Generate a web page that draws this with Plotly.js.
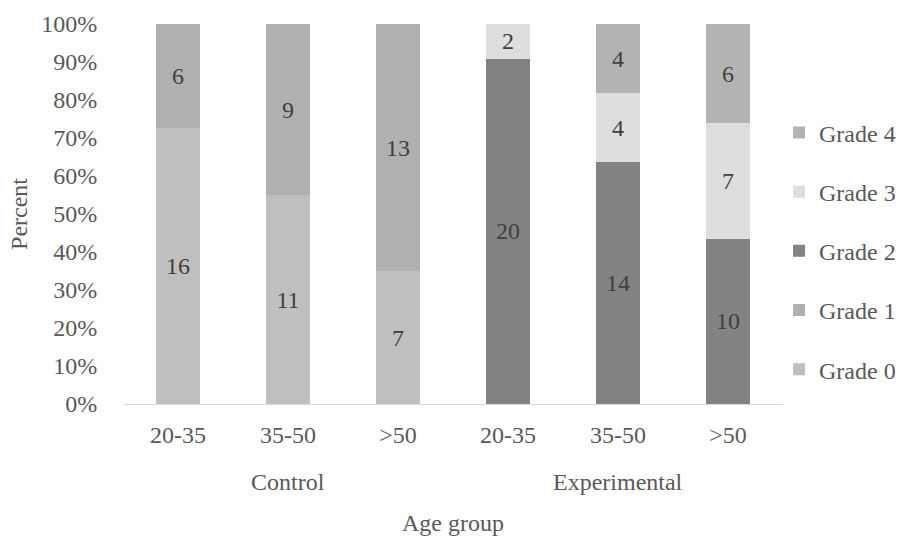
<!DOCTYPE html>
<html>
<head>
<meta charset="utf-8">
<script src="https://cdn.plot.ly/plotly-3.0.1.min.js"></script>
<style>html,body{margin:0;padding:0;background:#fff;}#chart{width:915px;height:537px;}</style>
</head>
<body>
<div id="chart"></div>
<script>
const groups = ["Control", "Control", "Control", "Experimental", "Experimental", "Experimental"];
const ages = ["20-35", "35-50", ">50", "20-35", "35-50", ">50"];
const grade0 = [16, 11, 7, null, null, null];
const grade1 = [6, 9, 13, null, null, null];
const grade2 = [null, null, null, 20, 14, 10];
const grade3 = [null, null, null, 2, 4, 7];
const grade4 = [null, null, null, null, 4, 6];
const seriesNames = ["Grade 0", "Grade 1", "Grade 2", "Grade 3", "Grade 4"];
const seriesValues = [grade0, grade1, grade2, grade3, grade4];
const seriesColors = ["#bfbfbf", "#b0b0b0", "#838383", "#dedede", "#b3b3b3"];
const yTickVals = [0, 10, 20, 30, 40, 50, 60, 70, 80, 90, 100];
const yTickText = yTickVals.map(v => v + "%");

const xKeys = groups.map((g, i) => g + " " + ages[i]);
const groupNames = ["Control", "Experimental"];
const groupCenters = groupNames.map(g => {
  const idx = groups.map((x, i) => x === g ? i : -1).filter(i => i >= 0);
  return (idx[0] + idx[idx.length - 1]) / 2;
});

const font = "Liberation Serif, Times New Roman, serif";
const textColor = "#595959";
const fs = 24;

const traces = seriesNames.map((name, i) => ({
  type: "bar",
  name: name,
  x: xKeys,
  y: seriesValues[i],
  text: seriesValues[i].map(v => v === null ? "" : String(v)),
  textposition: "inside",
  insidetextanchor: "middle",
  textangle: 0,
  insidetextfont: {family: font, size: fs, color: "#404040"},
  marker: {color: seriesColors[i], line: {width: 0}},
  legendgroup: name,
  legendrank: seriesNames.length - i,
  hoverinfo: "skip"
}));

const layout = {
  width: 915,
  height: 537,
  margin: {l: 123, r: 132, t: 24, b: 133},
  paper_bgcolor: "#ffffff",
  plot_bgcolor: "#ffffff",
  barmode: "stack",
  barnorm: "percent",
  bargap: 0.6,
  font: {family: font, size: fs, color: textColor},
  showlegend: true,
  legend: {
    x: 0.994, xanchor: "left",
    y: 0.403, yanchor: "middle",
    traceorder: "grouped",
    tracegroupgap: 25,
    font: {family: font, size: 24, color: textColor},
    itemwidth: 30
  },
  annotations: groupNames.map((g, k) => ({
    text: g,
    xref: "x", yref: "paper",
    x: groupCenters[k], y: -0.205,
    xanchor: "center", yanchor: "middle",
    showarrow: false,
    font: {family: font, size: fs, color: textColor}
  })),
  xaxis: {
    type: "category",
    tickvals: xKeys,
    ticktext: ages,
    showline: true,
    linecolor: "#d9d9d9",
    linewidth: 1,
    ticks: "outside",
    ticklen: 9,
    tickcolor: "rgba(0,0,0,0)",
    tickfont: {family: font, size: fs, color: textColor},
    title: {text: "Age group", font: {family: font, size: fs, color: textColor}, standoff: 67}
  },
  yaxis: {
    range: [0, 100],
    tickvals: yTickVals,
    ticktext: yTickText,
    showgrid: false,
    zeroline: false,
    showline: false,
    ticks: "outside",
    ticklen: 20,
    tickcolor: "rgba(0,0,0,0)",
    tickfont: {family: font, size: fs, color: textColor},
    title: {text: "Percent", font: {family: font, size: fs, color: textColor}, standoff: 6}
  }
};

Plotly.newPlot("chart", traces, layout, {displayModeBar: false, staticPlot: true});
</script>
</body>
</html>
